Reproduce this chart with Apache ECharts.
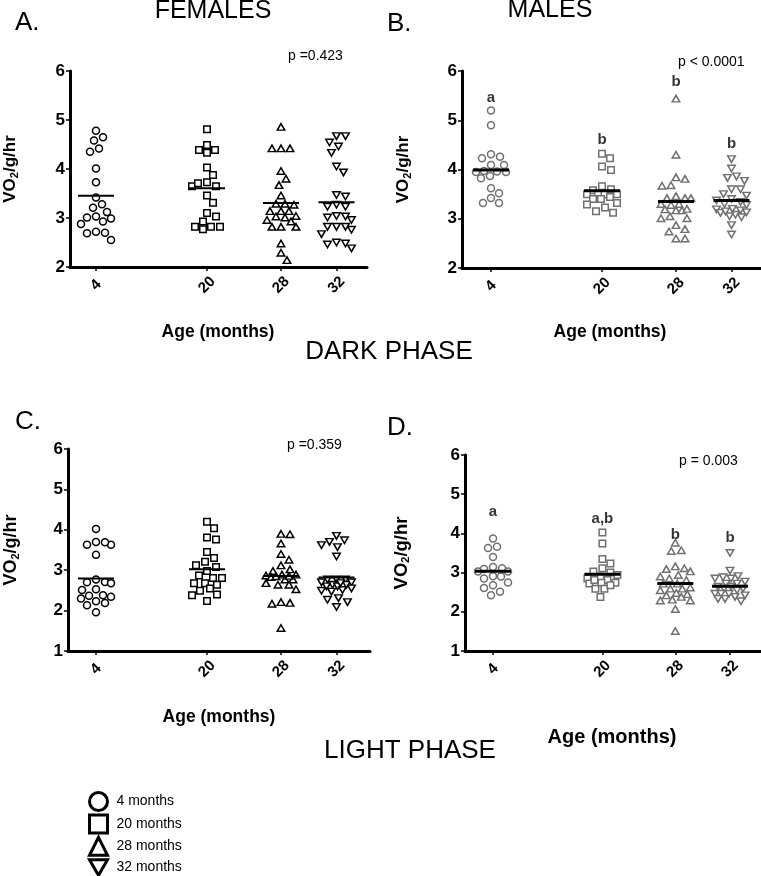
<!DOCTYPE html>
<html>
<head>
<meta charset="utf-8">
<script src="https://cdn.jsdelivr.net/npm/echarts@6/dist/echarts.min.js"></script>
<style>
  html, body { margin: 0; padding: 0; background: #fff; }
  #main { width: 761px; height: 876px; }
</style>
</head>
<body>
<div id="main"></div>
<script>
// categories
const ageLabels = ['4', '20', '28', '32'];
const legendNames = ['4 months', '20 months', '28 months', '32 months'];

// VO2/g/hr, dark phase, females (A)
const darkF4 = [4.78, 4.65, 4.58, 4.42, 4.35, 4.01, 3.73, 3.42, 3.28, 3.21, 3.12, 3.03, 3.01, 2.99, 2.93, 2.88, 2.72, 2.70, 2.69, 2.55];
const darkF20 = [4.81, 4.49, 4.39, 4.33, 4.39, 4.03, 3.88, 3.73, 3.65, 3.65, 3.71, 3.46, 3.31, 3.10, 3.03, 2.93, 2.82, 2.77, 2.82, 2.82];
const darkF28 = [4.86, 4.42, 4.42, 4.42, 3.96, 3.80, 3.67, 3.46, 3.29, 3.27, 3.29, 3.14, 3.14, 3.14, 3.04, 3.01, 3.03, 2.96, 2.93, 2.82, 2.82, 2.82, 2.48, 2.29, 2.14];
const darkF32 = [4.67, 4.67, 4.54, 4.33, 4.46, 4.05, 3.93, 3.44, 3.47, 3.23, 3.23, 3.27, 3.03, 2.96, 3.01, 3.04, 2.82, 2.76, 2.82, 2.82, 2.67, 2.48, 2.38, 2.46, 2.50];
// dark phase, males (B)
const darkM4 = [5.20, 4.90, 4.26, 4.31, 4.23, 4.09, 4.09, 3.96, 3.95, 3.95, 3.97, 3.82, 3.87, 3.62, 3.52, 3.42, 3.32, 3.32];
const darkM20 = [4.23, 4.32, 4.06, 3.99, 3.60, 3.58, 3.66, 3.50, 3.50, 3.50, 3.50, 3.40, 3.40, 3.44, 3.32, 3.23, 3.29, 3.12, 3.15];
const darkM28 = [5.44, 4.30, 3.81, 3.84, 3.67, 3.68, 3.46, 3.42, 3.42, 3.42, 3.30, 3.28, 3.30, 3.17, 3.19, 3.17, 3.20, 3.01, 3.05, 3.01, 2.87, 2.74, 2.79, 2.60, 2.60];
const darkM32 = [4.21, 4.02, 3.86, 3.77, 3.83, 3.60, 3.60, 3.50, 3.37, 3.47, 3.40, 3.30, 3.28, 3.34, 3.20, 3.17, 3.13, 3.19, 3.08, 3.03, 3.05, 2.87, 2.68, 3.12, 3.15];
// light phase, females (C)
const lightF4 = [4.02, 3.70, 3.63, 3.63, 3.69, 3.38, 2.71, 2.70, 2.68, 2.77, 2.53, 2.51, 2.37, 2.30, 2.38, 2.34, 2.19, 2.23, 2.13, 1.96];
const lightF20 = [4.20, 4.04, 3.76, 3.81, 3.45, 3.30, 3.21, 3.12, 3.08, 2.98, 2.81, 2.87, 2.64, 2.81, 2.68, 2.68, 2.55, 2.49, 2.40, 2.38, 2.24];
const lightF28 = [3.89, 3.90, 3.66, 3.40, 3.26, 3.12, 3.02, 2.98, 2.87, 2.89, 2.89, 2.77, 2.77, 2.83, 2.68, 2.64, 2.64, 2.53, 2.19, 2.17, 2.21, 1.57, 2.85, 2.86];
const lightF32 = [3.85, 3.70, 3.57, 3.62, 3.74, 3.34, 2.77, 2.77, 2.77, 2.64, 2.60, 2.64, 2.60, 2.51, 2.47, 2.49, 2.27, 2.21, 2.31, 2.09, 2.70, 2.70, 2.68, 2.55];
// light phase, males (D)
const lightM4 = [3.87, 3.63, 3.66, 3.40, 3.14, 3.09, 3.11, 3.03, 3.03, 2.91, 2.85, 2.90, 2.75, 2.68, 2.61, 2.51, 2.42];
const lightM20 = [4.02, 3.74, 3.35, 3.23, 3.11, 3.00, 3.03, 2.94, 2.90, 2.85, 2.81, 2.74, 2.72, 2.74, 2.59, 2.59, 2.38, 2.81, 2.68];
const lightM28 = [3.76, 3.57, 3.55, 3.16, 3.11, 3.09, 3.03, 2.94, 2.90, 2.81, 2.85, 2.72, 2.72, 2.59, 2.62, 2.55, 2.48, 2.45, 2.31, 2.29, 2.29, 2.07, 1.51, 2.38, 2.42, 2.59];
const lightM32 = [3.50, 3.05, 2.91, 2.85, 2.88, 2.85, 2.77, 2.72, 2.72, 2.64, 2.59, 2.59, 2.64, 2.46, 2.42, 2.46, 2.33, 2.27, 2.46, 2.38, 2.33, 2.55];

// significance letters
const lettersB = ['a', 'b', 'b', 'b'];
const lettersD = ['a', 'a,b', 'b', 'b'];

// layout (slot positions of the age groups on the x axis, letter heights)
const groupPos = [1, 3, 4.333, 5.333];
const letterYB = [5.45, 4.60, 5.78, 4.52];
const letterYD = [4.55, 4.37, 3.96, 3.88];

const font = '"Liberation Sans", Arial, sans-serif';
const gray = '#707070';

const symbols = ['circle', 'rect', 'triangle', 'path://M0,0L10,0L5,8.66Z'];
const symbolSizes = [7, 6.5, [7.5, 6.5], [7.5, 6.5]];

const panels = [
  { groups: [darkF4, darkF20, darkF28, darkF32], color: '#000', meanW: 2, yMin: 2,
    grid: { left: 70, top: 71, width: 297, height: 196 }, unit: 55.5, first: 26, nameGap: 50, nameSize: 17 },
  { groups: [darkM4, darkM20, darkM28, darkM32], color: gray, meanW: 3, yMin: 2,
    grid: { left: 462, top: 71, width: 299, height: 197 }, unit: 55.5, first: 29, nameGap: 49, nameSize: 17,
    letters: lettersB, letterY: letterYB },
  { groups: [lightF4, lightF20, lightF28, lightF32], color: '#000', meanW: 2, yMin: 1,
    grid: { left: 68, top: 449, width: 302, height: 202 }, unit: 55.5, first: 28, nameGap: 47, nameSize: 18 },
  { groups: [lightM4, lightM20, lightM28, lightM32], color: gray, meanW: 3, yMin: 1,
    grid: { left: 465, top: 455, width: 296, height: 196 }, unit: 54.7, first: 28, nameGap: 54, nameSize: 18.5,
    letters: lettersD, letterY: letterYD }
];

function mean(a) { return a.reduce((s, v) => s + v, 0) / a.length; }

// beeswarm: horizontal pixel offsets, markers kept apart where the band width allows
function swarm(vals, pxPerY, d, maxW) {
  const order = vals.map((v, i) => i).sort((a, b) => vals[b] - vals[a]);
  const placed = [];
  const off = new Array(vals.length).fill(0);
  order.forEach(i => {
    const y = vals[i] * pxPerY;
    let best = 0, bestDist = -1;
    for (let k = 0; ; k++) {
      const dx = (k % 2 ? 1 : -1) * Math.ceil(k / 2);
      if (Math.abs(dx) > maxW) break;
      let minD = Infinity;
      placed.forEach(p => { minD = Math.min(minD, Math.hypot(p.x - dx, p.y - y)); });
      if (minD >= d) { best = dx; bestDist = minD; break; }
      if (minD > bestDist) { bestDist = minD; best = dx; }
    }
    off[i] = best;
    placed.push({ x: best, y });
  });
  return off;
}

const grids = [], xAxes = [], yAxes = [], series = [];

panels.forEach((pn, pi) => {
  grids.push(pn.grid);
  const xMin = groupPos[0] - pn.first / pn.unit;
  xAxes.push({
    gridIndex: pi, type: 'value', min: xMin, max: xMin + pn.grid.width / pn.unit,
    splitLine: { show: false },
    axisLine: { lineStyle: { color: '#000', width: 3 } },
    axisTick: { show: true, customValues: groupPos, length: 4, lineStyle: { color: '#000', width: 1.5 } },
    axisLabel: {
      customValues: groupPos, rotate: 45, align: 'center', verticalAlign: 'middle', margin: 18,
      fontFamily: font, fontWeight: 'bold', fontSize: 15, color: '#000',
      formatter: v => ageLabels[groupPos.findIndex(p => Math.abs(p - v) < 0.01)]
    }
  });
  yAxes.push({
    gridIndex: pi, type: 'value', min: pn.yMin, max: 6, interval: 1,
    splitLine: { show: false },
    axisLine: { show: true, lineStyle: { color: '#000', width: 3 } },
    axisTick: { show: true, length: 4, lineStyle: { color: '#000', width: 1.5 } },
    axisLabel: { margin: 5, fontFamily: font, fontWeight: 'bold', fontSize: 17, color: '#000' },
    name: '{t|VO}{s|2}{t|/g/hr}', nameLocation: 'middle', nameRotate: 90, nameGap: pn.nameGap,
    nameTextStyle: {
      rich: {
        t: { fontFamily: font, fontWeight: 'bold', fontSize: pn.nameSize, color: '#000' },
        s: { fontFamily: font, fontWeight: 'bold', fontSize: 11, color: '#000', padding: [8, 0, 0, 0] }
      }
    }
  });

  const pxPerY = pn.grid.height / (6 - pn.yMin);
  pn.groups.forEach((vals, g) => {
    const off = swarm(vals, pxPerY, 9, 15);
    series.push({
      type: 'scatter', name: legendNames[g], xAxisIndex: pi, yAxisIndex: pi, silent: true,
      symbol: symbols[g], symbolSize: symbolSizes[g],
      itemStyle: { color: '#fff', borderColor: pn.color, borderWidth: 1.5, opacity: 1 },
      data: vals.map((v, i) => [groupPos[g] + off[i] / pn.unit, v]),
      z: 2
    });
  });

  series.push({
    type: 'custom', xAxisIndex: pi, yAxisIndex: pi, silent: true, z: 3,
    data: pn.groups.map((vals, g) => [groupPos[g], mean(vals)]),
    renderItem: (params, api) => {
      const p = api.coord([api.value(0), api.value(1)]);
      return { type: 'line', shape: { x1: p[0] - 18, y1: p[1], x2: p[0] + 18, y2: p[1] },
        style: { stroke: '#000', lineWidth: pn.meanW } };
    }
  });

  if (pn.letters) {
    series.push({
      type: 'scatter', xAxisIndex: pi, yAxisIndex: pi, silent: true, symbolSize: 0, z: 4,
      data: pn.letters.map((t, g) => [groupPos[g], pn.letterY[g]]),
      label: { show: true, position: 'inside', formatter: p => pn.letters[p.dataIndex],
        fontFamily: font, fontWeight: 'bold', fontSize: 15, color: '#000' }
    });
  }
});

function txt(x, y, text, f, align) {
  return { type: 'text', x, y, silent: true,
    style: { text, font: f, fill: '#000', align: align || 'left', verticalAlign: 'middle' } };
}

const graphic = [
  txt(15, 23, 'A.', '26px ' + font),
  txt(387, 24, 'B.', '26px ' + font),
  txt(15, 422, 'C.', '26px ' + font),
  txt(387, 428, 'D.', '26px ' + font),
  txt(213, 11, 'FEMALES', '25px ' + font, 'center'),
  txt(550, 10, 'MALES', '25px ' + font, 'center'),
  txt(288, 56, 'p =0.423', '14px ' + font),
  txt(678, 62, 'p < 0.0001', '14px ' + font),
  txt(287, 445, 'p =0.359', '14px ' + font),
  txt(679, 461, 'p = 0.003', '14px ' + font),
  txt(218, 332, 'Age (months)', 'bold 17.5px ' + font, 'center'),
  txt(610, 332, 'Age (months)', 'bold 17.5px ' + font, 'center'),
  txt(219, 717, 'Age (months)', 'bold 17.5px ' + font, 'center'),
  txt(612, 737, 'Age (months)', 'bold 20px ' + font, 'center'),
  txt(389, 352, 'DARK PHASE', '26px ' + font, 'center'),
  txt(410, 751, 'LIGHT PHASE', '26px ' + font, 'center')
];

// one legend block per age group, stacked
const legends = legendNames.map((name, g) => ({
  data: [name], orient: 'vertical', left: 88, top: 791 + g * 22.4, padding: 0, selectedMode: false,
  itemWidth: 18, itemHeight: 18,
  itemStyle: { color: '#fff', borderColor: '#000', borderWidth: 3 },
  textStyle: { fontFamily: font, fontSize: 14, color: '#000', padding: [0, 0, 0, 4] }
}));

const chart = echarts.init(document.getElementById('main'), null, { renderer: 'canvas' });
chart.setOption({
  backgroundColor: '#fff',
  animation: false,
  grid: grids,
  xAxis: xAxes,
  yAxis: yAxes,
  legend: legends,
  graphic,
  series
});
</script>
</body>
</html>
